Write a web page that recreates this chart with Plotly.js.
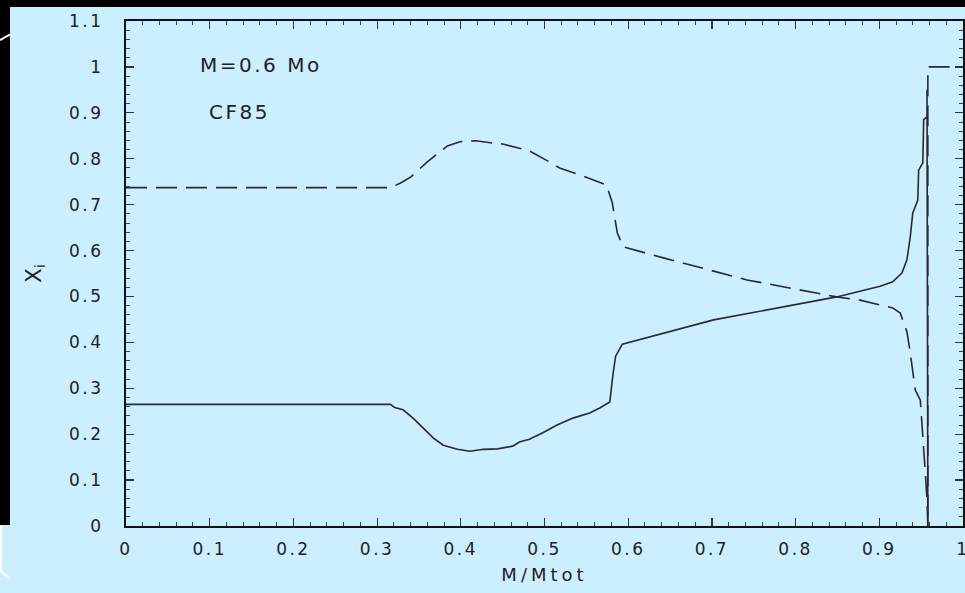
<!DOCTYPE html>
<html>
<head>
<meta charset="utf-8">
<script src="https://cdn.plot.ly/plotly-3.0.1.min.js"></script>
<style>
html,body{margin:0;padding:0;background:#ccefff;}
#chart{width:965px;height:593px;}
.xtick text, .ytick text {letter-spacing:2.5px;}
.g-xtitle text {letter-spacing:4px;}
.annotation-text {letter-spacing:2.5px;}
</style>
</head>
<body>
<div id="chart"></div>
<script>
// Solid curve (mass fraction, solid line)
const solidX = [0, 0.316, 0.321, 0.331, 0.343, 0.355, 0.367, 0.379, 0.396, 0.411, 0.427, 0.444, 0.462, 0.470, 0.482, 0.498, 0.515, 0.534, 0.554, 0.566, 0.578, 0.582, 0.585, 0.593, 0.702, 0.849, 0.877, 0.901, 0.916, 0.927, 0.933, 0.937, 0.940, 0.946, 0.947, 0.952, 0.953, 0.957, 0.957, 0.958];
const solidY = [0.265, 0.265, 0.258, 0.253, 0.235, 0.213, 0.192, 0.176, 0.167, 0.163, 0.167, 0.168, 0.174, 0.183, 0.189, 0.203, 0.220, 0.235, 0.246, 0.257, 0.270, 0.333, 0.370, 0.396, 0.449, 0.499, 0.512, 0.522, 0.532, 0.551, 0.580, 0.630, 0.682, 0.710, 0.775, 0.791, 0.885, 0.891, 0.950, 0.0];

// Dashed curve
const dashX = [0, 0.316, 0.328, 0.340, 0.360, 0.384, 0.399, 0.418, 0.438, 0.450, 0.470, 0.482, 0.502, 0.518, 0.542, 0.566, 0.574, 0.581, 0.587, 0.594, 0.642, 0.742, 0.849, 0.877, 0.916, 0.925, 0.933, 0.937, 0.943, 0.949, 0.952, 0.955, 0.957, 0.958, 0.958, 1.0];
const dashY = [0.737, 0.737, 0.747, 0.760, 0.793, 0.828, 0.837, 0.839, 0.834, 0.832, 0.823, 0.817, 0.797, 0.780, 0.765, 0.749, 0.743, 0.704, 0.638, 0.608, 0.584, 0.536, 0.499, 0.492, 0.475, 0.464, 0.423, 0.377, 0.296, 0.274, 0.181, 0.115, 0.057, 0.0, 1.0, 1.0];

const xTickVals = [0, 0.1, 0.2, 0.3, 0.4, 0.5, 0.6, 0.7, 0.8, 0.9, 1];
const xTickText = ["0", "0.1", "0.2", "0.3", "0.4", "0.5", "0.6", "0.7", "0.8", "0.9", "1"];
const yTickVals = [0, 0.1, 0.2, 0.3, 0.4, 0.5, 0.6, 0.7, 0.8, 0.9, 1, 1.1];
const yTickText = ["0", "0.1", "0.2", "0.3", "0.4", "0.5", "0.6", "0.7", "0.8", "0.9", "1", "1.1"];

const bg = '#ccefff';
const ink = '#2a2a2a';
const tickFont = {family: 'DejaVu Sans, sans-serif', size: 17, color: '#222'};

const traces = [
  {x: solidX, y: solidY, mode: 'lines', line: {color: ink, width: 1.6}, hoverinfo: 'skip'},
  {x: dashX, y: dashY, mode: 'lines', line: {color: ink, width: 1.6, dash: '21px,9px'}, hoverinfo: 'skip'}
];

const axisCommon = {
  showline: true, linewidth: 2, linecolor: '#111', mirror: 'ticks',
  ticks: 'inside', ticklen: 8, tickwidth: 1.2, tickcolor: '#333',
  minor: {ticks: 'inside', ticklen: 4, tickwidth: 1, tickcolor: '#444'},
  showgrid: false, zeroline: false, tickfont: tickFont, automargin: false,
  ticklabeloverflow: 'allow'
};

const layout = {
  width: 965, height: 593,
  margin: {l: 126, r: 2, t: 21, b: 67, pad: 0},
  paper_bgcolor: bg, plot_bgcolor: bg,
  showlegend: false,
  xaxis: Object.assign({}, axisCommon, {
    range: [0, 1], tickmode: 'array', tickvals: xTickVals, ticktext: xTickText,
    minor: Object.assign({}, axisCommon.minor, {dtick: 0.02, tick0: 0}),
    ticklabelstandoff: 7,
    title: {text: 'M/Mtot', font: {family: 'DejaVu Sans, sans-serif', size: 18, color: '#222'}, standoff: 10}
  }),
  yaxis: Object.assign({}, axisCommon, {
    range: [0, 1.1], tickmode: 'array', tickvals: yTickVals, ticktext: yTickText,
    minor: Object.assign({}, axisCommon.minor, {dtick: 0.02, tick0: 0}),
    ticklabelstandoff: 17,
    title: {text: 'X<sub>i</sub>', font: {family: 'DejaVu Sans, sans-serif', size: 21, color: '#222'}, standoff: 22}
  }),
  annotations: [
    {text: 'M=0.6 Mo', x: 0.086, y: 1.004, xref: 'x', yref: 'y', xanchor: 'left', yanchor: 'middle', showarrow: false,
     font: {family: 'DejaVu Sans, sans-serif', size: 20, color: '#222'}},
    {text: 'CF85', x: 0.097, y: 0.902, xref: 'x', yref: 'y', xanchor: 'left', yanchor: 'middle', showarrow: false,
     font: {family: 'DejaVu Sans, sans-serif', size: 20, color: '#222'}}
  ],
  shapes: [
    {type: 'rect', xref: 'paper', yref: 'paper', x0: -0.16, x1: 1.02, y0: 1.0277, y1: 1.06, fillcolor: '#000', line: {width: 0}, layer: 'above'},
    {type: 'rect', xref: 'paper', yref: 'paper', x0: -0.16, x1: -0.1386, y0: 0.002, y1: 1.06, fillcolor: '#000', line: {width: 0}, layer: 'above'},
    {type: 'path', xref: 'paper', yref: 'paper', path: 'M -0.1505,0.962 Q -0.145,0.968 -0.1386,0.973', line: {color: '#fff', width: 2}, layer: 'above'},
    {type: 'path', xref: 'paper', yref: 'paper', path: 'M -0.1495,0.002 L -0.1495,-0.088 Q -0.145,-0.098 -0.1386,-0.103', line: {color: '#fff', width: 2}, layer: 'above'}
  ]
};

Plotly.newPlot('chart', traces, layout, {staticPlot: true, displayModeBar: false});
</script>
</body>
</html>
